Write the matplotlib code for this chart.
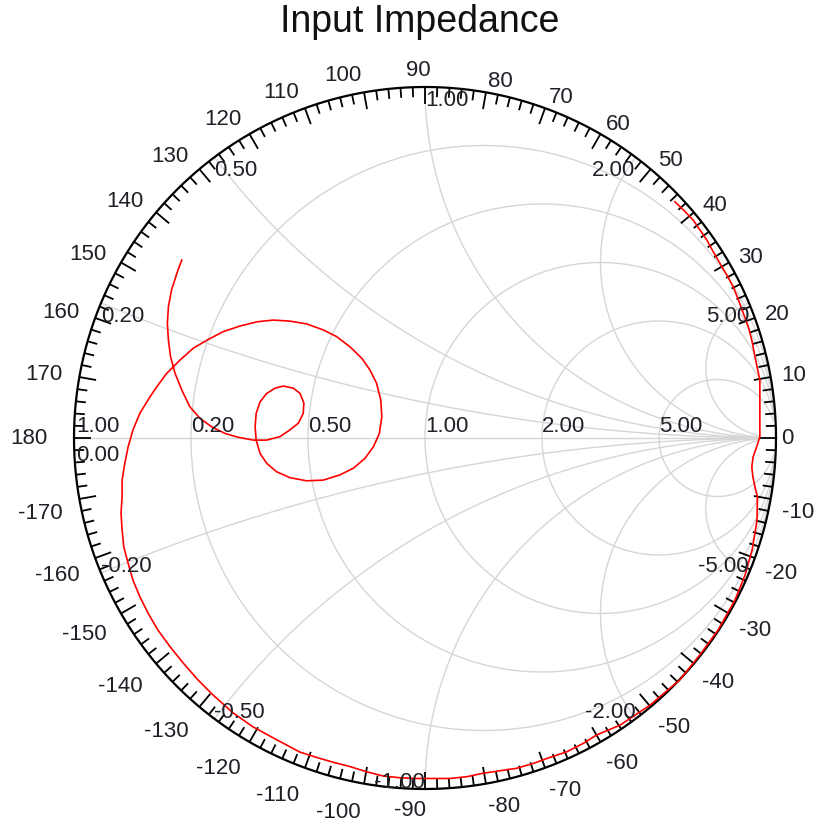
import numpy as np
import matplotlib.pyplot as plt
from matplotlib.collections import LineCollection

plt.rcParams['font.family'] = ['Liberation Sans', 'DejaVu Sans']

gamma_re = [0.712, 0.736, 0.764, 0.783, 0.803, 0.821, 0.840, 0.860, 0.878, 0.893,
            0.907, 0.921, 0.931, 0.940, 0.950, 0.954, 0.954, 0.954, 0.945, 0.935,
            0.931, 0.934, 0.940, 0.947, 0.946, 0.932, 0.912, 0.883, 0.835, 0.783,
            0.726, 0.641, 0.556, 0.489, 0.451, 0.404, 0.356, 0.309, 0.261, 0.214,
            0.166, 0.119, 0.071, 0.024, -0.024, -0.071, -0.119, -0.166, -0.214, -0.261,
            -0.309, -0.356, -0.422, -0.490, -0.547, -0.604, -0.647, -0.689, -0.726, -0.761,
            -0.789, -0.812, -0.832, -0.846, -0.858, -0.863, -0.866, -0.863, -0.863, -0.855,
            -0.846, -0.832, -0.812, -0.783, -0.764, -0.736, -0.698, -0.660, -0.617, -0.575,
            -0.527, -0.479, -0.432, -0.385, -0.337, -0.290, -0.252, -0.214, -0.180, -0.157,
            -0.138, -0.126, -0.123, -0.130, -0.147, -0.171, -0.204, -0.242, -0.290, -0.337,
            -0.385, -0.423, -0.451, -0.470, -0.481, -0.484, -0.481, -0.470, -0.451, -0.427,
            -0.404, -0.375, -0.356, -0.345, -0.347, -0.361, -0.385, -0.413, -0.451, -0.489,
            -0.532, -0.570, -0.608, -0.641, -0.670, -0.693, -0.712, -0.725, -0.731, -0.734,
            -0.731, -0.722, -0.707, -0.693]
gamma_im = [0.673, 0.650, 0.621, 0.593, 0.564, 0.531, 0.498, 0.464, 0.431, 0.393,
            0.355, 0.317, 0.279, 0.232, 0.184, 0.165, 0.070, 0.004, -0.025, -0.053,
            -0.082, -0.110, -0.139, -0.167, -0.234, -0.319, -0.390, -0.462, -0.547, -0.618,
            -0.689, -0.761, -0.818, -0.846, -0.870, -0.894, -0.910, -0.927, -0.941, -0.948,
            -0.955, -0.965, -0.970, -0.970, -0.970, -0.968, -0.963, -0.951, -0.936, -0.924,
            -0.910, -0.895, -0.860, -0.823, -0.783, -0.732, -0.689, -0.641, -0.595, -0.547,
            -0.499, -0.453, -0.405, -0.356, -0.311, -0.262, -0.214, -0.168, -0.120, -0.071,
            -0.026, 0.023, 0.071, 0.118, 0.146, 0.184, 0.222, 0.256, 0.281, 0.303,
            0.319, 0.331, 0.336, 0.333, 0.325, 0.308, 0.289, 0.260, 0.227, 0.194,
            0.156, 0.108, 0.061, 0.013, -0.025, -0.058, -0.086, -0.105, -0.120, -0.122,
            -0.113, -0.096, -0.072, -0.044, -0.006, 0.032, 0.070, 0.103, 0.127, 0.142,
            0.148, 0.142, 0.127, 0.099, 0.070, 0.042, 0.023, 0.004, -0.006, -0.006,
            0.002, 0.013, 0.032, 0.056, 0.089, 0.137, 0.184, 0.232, 0.279, 0.327,
            0.374, 0.422, 0.469, 0.507]

r_grid = [0.2, 0.5, 1.0, 2.0, 5.0]
x_grid = [0.2, 0.5, 1.0, 2.0, 5.0]
angle_ticks = list(range(-170, 181, 10))

W, H = 817, 824
CX, CY, R = 425, 438, 351   # unit circle centre / radius in pixels
px = 1.0 / R
zmax = 40.0
grid_col = '#d6d6d6'
txt_col = '#202028'

fig = plt.figure(figsize=(W / 100, H / 100), dpi=100)
ax = fig.add_axes([0, 0, 1, 1])
ax.set_xlim(-CX / R, (W - CX) / R)
ax.set_ylim(-(H - CY) / R, CY / R)
ax.axis('off')

def gam(z):
    return (z - 1) / (z + 1)

# constant resistance circles
xs = np.concatenate([-np.geomspace(zmax, 1e-3, 400), [0.0], np.geomspace(1e-3, zmax, 400)])
for r in r_grid:
    g = gam(r + 1j * xs)
    ax.plot(g.real, g.imag, color=grid_col, lw=1, zorder=1)
    ax.text((r - 1) / (r + 1), 0.002, '%.2f' % r, ha='left', va='bottom',
            fontsize=16, color=txt_col, zorder=5)

# constant reactance arcs
rs = np.concatenate([[0.0], np.geomspace(1e-3, zmax, 500)])
for x in x_grid:
    for sx in (1, -1):
        g = gam(rs + 1j * sx * x)
        ax.plot(g.real, g.imag, color=grid_col, lw=1, zorder=1)
        g0 = gam(1j * sx * x)
        if sx > 0:
            ha = 'left' if x <= 1 else 'right'
            ax.text(g0.real, g0.imag - 3 * px, '%.2f' % x, ha=ha, va='top',
                    fontsize=16, color=txt_col, zorder=5)
        else:
            ha = 'left' if x < 1 else 'right'
            ax.text(g0.real, g0.imag - 4 * px, '%.2f' % (-x), ha=ha, va='bottom',
                    fontsize=16, color=txt_col, zorder=5)
ax.plot([-1, gam(zmax).real], [0, 0], color=grid_col, lw=1, zorder=1)
ax.text(-1 + 2 * px, 0.002, '1.00', ha='left', va='bottom', fontsize=16, color=txt_col, zorder=5)
ax.text(-1 + 2 * px, -0.02, '0.00', ha='left', va='top', fontsize=16, color=txt_col, zorder=5)

# outer circle + ticks
t = np.linspace(0, 2 * np.pi, 721)
ax.plot(np.cos(t), np.sin(t), color='black', lw=1.6, zorder=3)
segs = []
for d in range(-180, 180, 2):
    a = np.radians(d)
    L = 17 * px if d % 10 == 0 else 10 * px
    segs.append([(np.cos(a), np.sin(a)), ((1 - L) * np.cos(a), (1 - L) * np.sin(a))])
ax.add_collection(LineCollection(segs, colors='black', linewidths=1.3, zorder=3))

# angle labels
for d in angle_ticks:
    a = np.radians(d)
    c, s = np.cos(a), np.sin(a)
    dx = 0.0
    if d == 0:
        rr, ha = 356, 'left'
    elif d == 180:
        rr, ha = 377, 'right'
    elif abs(d) == 90:
        rr, ha = 368, 'center'
        dx = -7 if d > 0 else -15
    elif c < 0:
        rr, ha = 368, 'right'
    else:
        rr, ha = 362, 'left'
    dy = 0
    if d < 0:
        dy = -5 if d == -90 else -12
    ax.text(rr * px * c + dx * px, rr * px * s + dy * px, str(d), ha=ha, va='center',
            fontsize=16, color=txt_col, zorder=5)

# trace
ax.plot(gamma_re, gamma_im, color='red', lw=1.2, zorder=4)

fig.text(420 / W, 1 - 22 / H, 'Input Impedance', ha='center', va='center',
         fontsize=27, color='#111111')

fig.savefig('out.png', dpi=100)
